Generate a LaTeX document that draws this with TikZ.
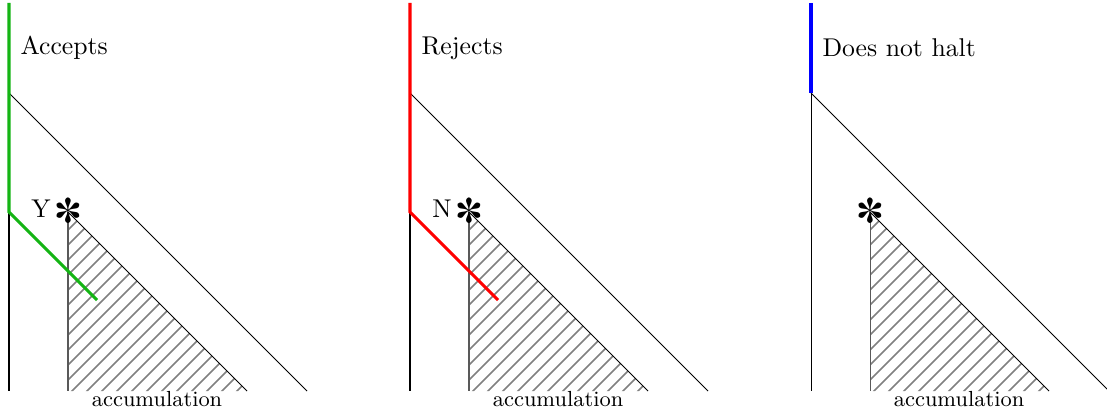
\documentclass[tikz,border=0pt]{standalone}
\usepackage{pifont}
\definecolor{accG}{RGB}{20,180,20}
\begin{document}
\begin{tikzpicture}[x=0.389pt,y=-0.389pt,
  thinline/.style={line width=0.4pt,black},
  runpath/.style={line width=1.2pt},
  hatchline/.style={line width=0.6pt,gray},
  lbl/.style={inner sep=0pt,anchor=base west},
  acc/.style={inner sep=0pt,anchor=base,font=\fontsize{8.5}{10}\selectfont}]
\useasboundingbox (0,0) rectangle (1107,412);
\foreach \k/\nm in {0/a,1/b,2/c}{
\begin{scope}[shift={(401*\k,0)}]
  \coordinate (top\nm) at (9,3);
  \coordinate (bend\nm) at (9,93);
  \coordinate (bot\nm) at (9,391);
  \coordinate (diagend\nm) at (307,391);
  \coordinate (apex\nm) at (68,212);
  \coordinate (tribl\nm) at (68,391);
  \coordinate (tribr\nm) at (247,391);
  \draw[thinline] (top\nm) -- (bot\nm);
  \draw[thinline] (bend\nm) -- (diagend\nm);
  \begin{scope}
    \clip (apex\nm) -- (tribl\nm) -- (tribr\nm) -- cycle;
    \foreach \c in {0,1,...,24}{
      \draw[hatchline] (68,215+15*\c) ++(-60,60) -- ++(320,-320);
    }
  \end{scope}
  \draw[thinline,black!65] (apex\nm) -- (tribl\nm);
  \draw[thinline] (apex\nm) -- (tribr\nm);
  \node[inner sep=0pt] (star\nm) at (68,211) {\Large\ding{93}};
  \node[acc] (accum\nm) at (157,406) {accumulation};
\end{scope}
}
% panel 1
\coordinate (turna) at (9,212);
\coordinate (stopa) at (97,300);
\draw[runpath,accG] (topa) -- (turna) -- (stopa);
\node[lbl] (txta) at (20,55) {Accepts};
\node[inner sep=0pt,anchor=base] (ya) at (41,218) {Y};
% panel 2
\coordinate (turnb) at (410,212);
\coordinate (stopb) at (498,300);
\draw[runpath,red] (topb) -- (turnb) -- (stopb);
\node[lbl] (txtb) at (421,55) {Rejects};
\node[inner sep=0pt,anchor=base] (nb) at (442,218) {N};
% panel 3
\draw[runpath,blue] (topc) -- (bendc);
\node[lbl] (txtc) at (822,57) {Does not halt};
\end{tikzpicture}
\end{document}
